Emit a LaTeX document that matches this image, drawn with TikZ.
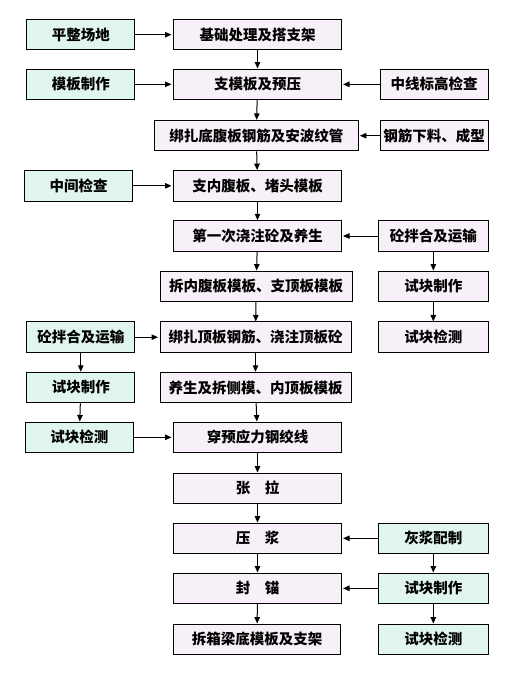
\documentclass[tikz,border=0pt]{standalone}
\usepackage{fontspec}
\newfontfamily\cjk{Noto Sans CJK SC}
\usetikzlibrary{arrows.meta}
\definecolor{mainfill}{HTML}{F8F0F8}
\definecolor{sidefill}{HTML}{E0F4F0}
\tikzset{
 mainbox/.style={draw,line width=1pt,fill=mainfill,minimum height=30.5pt,inner sep=0pt,font=\cjk\bfseries\fontsize{14.5}{16}\selectfont},
 sidebox/.style={mainbox,fill=sidefill,minimum width=108pt},
 flow/.style={-{Triangle[length=6.5pt,width=5.5pt]},line width=1pt}
}
\begin{document}
\begin{tikzpicture}[x=1pt,y=-1pt]
 \useasboundingbox (0,0) rectangle (511,687);
 % main column
 \node[mainbox,minimum width=168pt] (M1) at (257.5,34.7) {基础处理及搭支架};
 \node[mainbox,minimum width=168pt] (M2) at (257.5,84.3) {支模板及预压};
 \node[mainbox,minimum width=204pt] (M3) at (256.3,135.7) {绑扎底腹板钢筋及安波纹管};
 \node[mainbox,minimum width=168pt] (M4) at (257.5,185.8) {支内腹板、堵头模板};
 \node[mainbox,minimum width=168pt] (M5) at (257.5,236) {第一次浇注砼及养生};
 \node[mainbox,minimum width=192pt] (M6) at (256.2,286.3) {拆内腹板模板、支顶板模板};
 \node[mainbox,minimum width=191pt] (M7) at (255.5,337.2) {绑扎顶板钢筋、浇注顶板砼};
 \node[mainbox,minimum width=191pt] (M8) at (255.5,387.5) {养生及拆侧模、内顶板模板};
 \node[mainbox,minimum width=168pt] (M9) at (257.5,437.3) {穿预应力钢绞线};
 \node[mainbox,minimum width=168pt] (M10) at (257.5,488.3) {张　拉};
 \node[mainbox,minimum width=168pt] (M11) at (257.5,538.3) {压　浆};
 \node[mainbox,minimum width=168pt] (M12) at (257.5,588.3) {封　锚};
 \node[mainbox,minimum width=167pt] (M13) at (257,639.3) {拆箱梁底模板及支架};
 % left column
 \node[sidebox] (L1) at (80.8,34.7) {平整场地};
 \node[sidebox] (L2) at (80.8,84.3) {模板制作};
 \node[sidebox] (L3) at (78.5,185.8) {中间检查};
 \node[sidebox] (L4) at (80.8,337.2) {砼拌合及运输};
 \node[sidebox] (L5) at (80.8,387.5) {试块制作};
 \node[sidebox] (L6) at (79.3,437.3) {试块检测};
 % right column
 \node[mainbox,minimum width=108pt] (R1) at (434.2,84.3) {中线标高检查};
 \node[mainbox,minimum width=108pt] (R2) at (434.2,135.7) {钢筋下料、成型};
 \node[mainbox,minimum width=110pt] (R3) at (433.3,236) {砼拌合及运输};
 \node[mainbox,minimum width=110pt] (R4) at (433.3,286.3) {试块制作};
 \node[mainbox,minimum width=110pt] (R5) at (433.3,337.2) {试块检测};
 \node[sidebox,minimum width=110pt] (R6) at (433.3,538.3) {灰浆配制};
 \node[sidebox,minimum width=110pt] (R7) at (433.3,588.3) {试块制作};
 \node[sidebox,minimum width=110pt] (R8) at (433.3,639.3) {试块检测};
 % main chain
 \foreach \a/\b in {M1/M2,M2/M3,M3/M4,M4/M5,M5/M6,M6/M7,M7/M8,M8/M9,M9/M10,M10/M11,M11/M12,M12/M13}
  \draw[flow] (\a) -- (\b);
 % side inputs
 \draw[flow,shorten >=1.5pt] (L1) -- (M1);
 \draw[flow,shorten >=1.5pt] (L2) -- (M2);
 \draw[flow,shorten >=1.5pt] (L3) -- (M4);
 \draw[flow,shorten >=1.5pt] (L4) -- (M7);
 \draw[flow] (L4) -- (L5);
 \draw[flow] (L5) -- (L6);
 \draw[flow,shorten >=1.5pt] (L6) -- (M9);
 \draw[flow,shorten >=1pt] (R1) -- (M2);
 \draw[flow,shorten >=1pt] (R2) -- (M3);
 \draw[flow,shorten >=1pt] (R3) -- (M5);
 \draw[flow] (R3) -- (R4);
 \draw[flow] (R4) -- (R5);
 \draw[flow,shorten >=1pt] (R6) -- (M11);
 \draw[flow] (R6) -- (R7);
 \draw[flow,shorten >=1pt] (R7) -- (M12);
 \draw[flow] (R7) -- (R8);
\end{tikzpicture}
\end{document}
